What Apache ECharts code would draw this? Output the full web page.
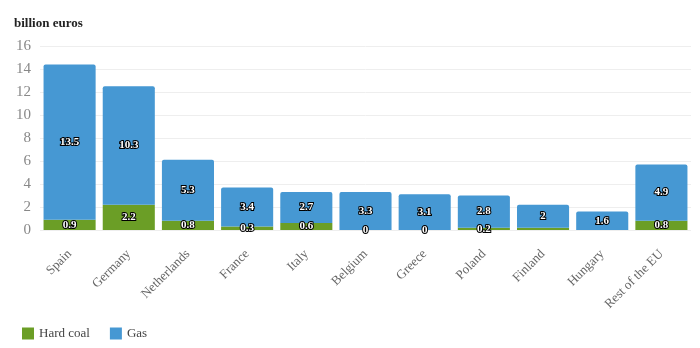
<!DOCTYPE html>
<html>
<head>
<meta charset="utf-8">
<script src="https://cdn.jsdelivr.net/npm/echarts@6/dist/echarts.min.js"></script>
<style>
  html, body { margin: 0; padding: 0; background: #fff; }
  #chart { width: 700px; height: 348px; }
</style>
</head>
<body>
<div id="chart"></div>
<script>
// Fossil subsidies by country, billion euros
const countries = ['Spain', 'Germany', 'Netherlands', 'France', 'Italy', 'Belgium', 'Greece', 'Poland', 'Finland', 'Hungary', 'Rest of the EU'];
const hardCoal = [0.9, 2.2, 0.8, 0.3, 0.6, 0, 0, 0.2, 0.2, 0, 0.8];
const gas = [13.5, 10.3, 5.3, 3.4, 2.7, 3.3, 3.1, 2.8, 2, 1.6, 4.9];
// coal labels that are not printed
const hiddenCoalLabels = ['Finland', 'Hungary'];
const yTicks = { min: 0, max: 16, interval: 2 };

const serif = '"Liberation Serif", "DejaVu Serif", serif';
const valueLabel = {
  show: true,
  position: 'inside',
  color: '#fff',
  fontFamily: serif,
  fontWeight: 'bold',
  fontSize: 11,
  textBorderColor: '#000',
  textBorderWidth: 2
};

const chart = echarts.init(document.getElementById('chart'), null, { renderer: 'canvas' });
chart.setOption({
  animation: false,
  textStyle: { fontFamily: serif },
  title: {
    text: 'billion euros',
    left: 9, top: 12,
    textStyle: { fontFamily: serif, fontWeight: 'bold', fontSize: 13, color: '#222' }
  },
  legend: {
    left: 17, top: 322,
    itemWidth: 12, itemHeight: 12, itemGap: 20,
    icon: 'rect',
    textStyle: { fontFamily: serif, fontSize: 13, color: '#444' },
    data: ['Hard coal', 'Gas']
  },
  grid: { left: 40, right: 9, top: 46, bottom: 118 },
  xAxis: {
    type: 'category',
    data: countries,
    axisLine: { show: false },
    axisTick: { show: false },
    axisLabel: {
      rotate: 45, interval: 0, margin: 22,
      fontFamily: serif, fontSize: 13, color: '#666'
    }
  },
  yAxis: {
    type: 'value',
    min: yTicks.min, max: yTicks.max, interval: yTicks.interval,
    axisLabel: { fontFamily: serif, fontSize: 15, color: '#888', margin: 9 },
    splitLine: { lineStyle: { color: '#eee' } }
  },
  series: [
    {
      name: 'Hard coal',
      type: 'bar',
      stack: 'total',
      barCategoryGap: '12%',
      itemStyle: { color: '#6b9e26' },
      label: valueLabel,
      data: hardCoal.map((v, i) => hiddenCoalLabels.includes(countries[i])
        ? { value: v, label: { show: false } }
        : v)
    },
    {
      name: 'Gas',
      type: 'bar',
      stack: 'total',
      barCategoryGap: '12%',
      itemStyle: { color: '#4698d3', borderRadius: [2, 2, 0, 0] },
      label: valueLabel,
      data: gas
    }
  ]
});
</script>
</body>
</html>
